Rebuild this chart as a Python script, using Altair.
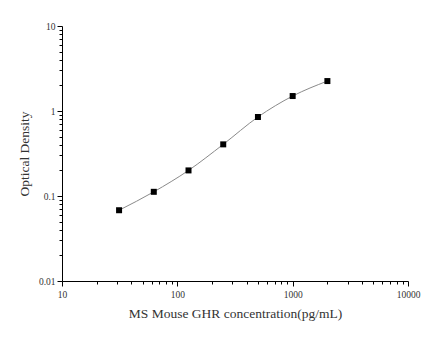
import altair as alt
import pandas as pd

conc = [31.25, 62.5, 125, 250, 500, 1000, 2000]
od = [0.068, 0.112, 0.200, 0.405, 0.85, 1.50, 2.25]

x_major = [10, 100, 1000, 10000]
y_major = [0.01, 0.1, 1, 10]
x_minor = [m * d for d in [10, 100, 1000] for m in range(2, 10)]
y_minor = [m * d for d in [0.01, 0.1, 1] for m in range(2, 10)]

df = pd.DataFrame({"conc": conc, "od": od})

FONT = "Liberation Serif"
xs = alt.Scale(type="log", domain=[10, 10000], nice=False)
ys = alt.Scale(type="log", domain=[0.01, 10], nice=False)

def axis_common(**kw):
    return dict(grid=False, domainColor="#000", tickColor="#000", labelFont=FONT,
                titleFont=FONT, labelColor="#333", titleColor="#333",
                labelFontSize=9.5, titleFontSize=13.5, titleFontWeight="normal", **kw)

line = alt.Chart(df).mark_line(interpolate="monotone", color="#8a8a8a", strokeWidth=1).encode(
    x=alt.X("conc:Q", scale=xs,
            axis=alt.Axis(values=x_major, tickSize=5, labelPadding=3, format="~g",
                          title="MS Mouse GHR concentration(pg/mL)", titlePadding=8,
                          orient="bottom", labelFlush=False, labelOverlap=False,
                          **axis_common())),
    y=alt.Y("od:Q", scale=ys,
            axis=alt.Axis(values=y_major, tickSize=5, labelPadding=2, format="~g",
                          title="Optical Density", titlePadding=7, orient="left",
                          labelFlush=False, labelOverlap=False, **axis_common())),
)

pts = alt.Chart(df).mark_square(size=36, color="#000", opacity=1).encode(
    x=alt.X("conc:Q", scale=xs, axis=None),
    y=alt.Y("od:Q", scale=ys, axis=None),
)

minor = alt.Chart(df).mark_point(opacity=0).encode(
    x=alt.X("conc:Q", scale=xs,
            axis=alt.Axis(values=x_minor, tickSize=3, labels=False, title=None, domain=False,
                          orient="bottom", grid=False, tickColor="#000")),
    y=alt.Y("od:Q", scale=ys,
            axis=alt.Axis(values=y_minor, tickSize=3, labels=False, title=None, domain=False,
                          orient="left", grid=False, tickColor="#000")),
)

chart = alt.layer(line, minor, pts).resolve_axis(x="independent", y="independent").properties(
    width=346, height=255,
    autosize=alt.AutoSizeParams(type="none"),
    padding={"left": 62, "top": 26, "right": 27, "bottom": 73},
    background="white",
).configure_view(stroke=None)

chart.save("out.html", embed_options={"renderer": "svg", "actions": False})
